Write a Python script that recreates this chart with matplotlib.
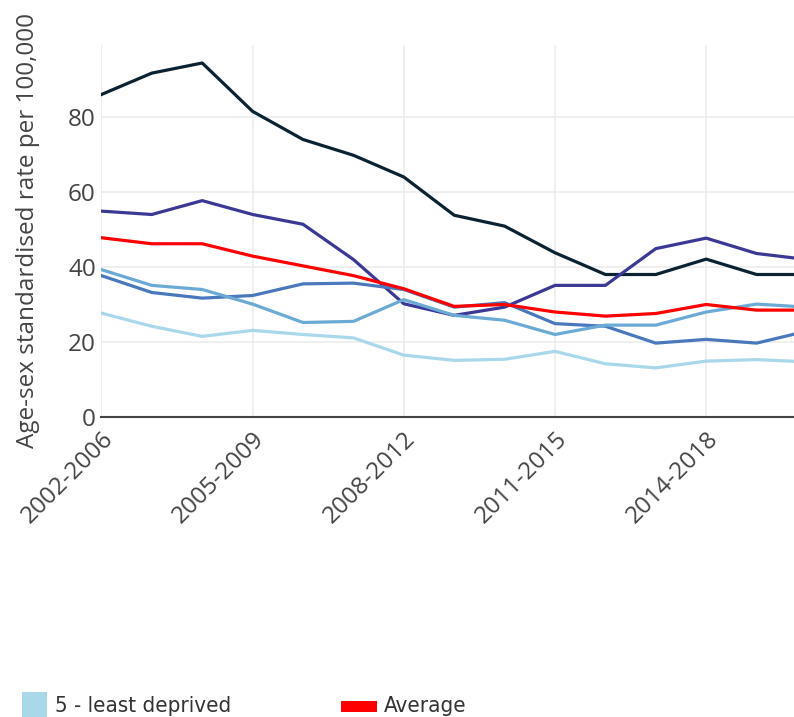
import matplotlib
matplotlib.use("Agg")
import matplotlib.pyplot as plt
from matplotlib.patches import Rectangle

periods = ["2002-2006", "2003-2007", "2004-2008", "2005-2009", "2006-2010",
           "2007-2011", "2008-2012", "2009-2013", "2010-2014", "2011-2015",
           "2012-2016", "2013-2017", "2014-2018", "2015-2019", "2016-2020"]

q1_most = [86.0, 91.7, 94.4, 81.5, 74.0, 69.8, 64.0, 53.8, 50.9, 43.8, 38.0, 38.0, 42.1, 38.0, 38.0]
q2 = [54.9, 54.0, 57.7, 54.0, 51.4, 42.0, 30.2, 27.1, 29.3, 35.1, 35.1, 44.9, 47.7, 43.6, 42.0]
q3 = [37.7, 33.2, 31.7, 32.4, 35.5, 35.7, 34.0, 29.3, 30.5, 24.9, 24.2, 19.7, 20.7, 19.7, 22.9]
q4 = [39.3, 35.1, 34.0, 30.1, 25.2, 25.5, 31.3, 27.1, 25.8, 22.0, 24.5, 24.5, 28.0, 30.1, 29.3]
q5_least = [27.7, 24.2, 21.5, 23.1, 22.0, 21.1, 16.5, 15.1, 15.4, 17.5, 14.2, 13.1, 14.9, 15.3, 14.7]
average = [47.8, 46.2, 46.2, 42.9, 40.3, 37.7, 34.2, 29.5, 30.0, 28.0, 26.9, 27.6, 30.0, 28.5, 28.5]

series_names = ["1 - most deprived", "2", "3", "4", "5 - least deprived", "Average"]
series_values = [q1_most, q2, q3, q4, q5_least, average]
series_colors = ["#0b2233", "#3b3896", "#4a78bd", "#6aaad5", "#a9d8ea", "#ff0000"]

tick_idx = [0, 3, 6, 9, 12]

FONT = ["Open Sans", "DejaVu Sans"]
W, H = 794, 717
fig = plt.figure(figsize=(W / 100, H / 100), dpi=100)
left, right, top, bottom = 101.4, 807.0, 45.0, 417.0
ax = fig.add_axes([left / W, (H - bottom) / H, (right - left) / W, (bottom - top) / H])

x = list(range(len(periods)))
for name, vals, col in zip(series_names, series_values, series_colors):
    ax.plot(x, vals, color=col, lw=2.3, label=name, solid_joinstyle="round", zorder=3)

ax.set_xlim(0, len(periods) - 1)
ax.set_ylim(0, 99.2)
ax.set_yticks([0, 20, 40, 60, 80])
ax.set_xticks(tick_idx)
ax.set_xticklabels([periods[i] for i in tick_idx], rotation=45, ha="right",
                   rotation_mode="anchor", fontsize=17.5, color="#444444", family=FONT)
for lab in ax.get_yticklabels():
    lab.set_fontsize(17.5)
    lab.set_color("#444444")
    lab.set_family(FONT)
ax.tick_params(axis="both", length=0)
ax.tick_params(axis="x", pad=7)
ax.tick_params(axis="y", pad=4)
ax.grid(True, color="#ebebeb", lw=1.1, zorder=0)
for s in ["top", "right", "left"]:
    ax.spines[s].set_visible(False)
ax.spines["bottom"].set_color("#444444")
ax.spines["bottom"].set_linewidth(1.5)
ax.spines["bottom"].set_zorder(4)
ax.set_ylabel("Age-sex standardised rate per 100,000", fontsize=17.5, color="#444444",
              family=FONT)
ax.yaxis.set_label_coords((40 - left) / (right - left), 0.5)

# legend (visible first row)
LFONT = ["DejaVu Sans", "Liberation Sans"]
fig.patches.append(Rectangle((22 / W, 0), 25 / W, (717 - 692) / H, transform=fig.transFigure,
                             facecolor=series_colors[4], edgecolor="none"))
fig.text(55 / W, 1 - 712 / H, series_names[4], fontsize=16, color="#333333",
         family=LFONT, stretch="condensed", va="baseline")
fig.patches.append(Rectangle((341 / W, 1 - 712 / H), 36 / W, 11 / H, transform=fig.transFigure,
                             facecolor=series_colors[5], edgecolor="none"))
fig.text(384 / W, 1 - 712 / H, series_names[5], fontsize=16, color="#333333",
         family=LFONT, stretch="condensed", va="baseline")

fig.savefig("out.png", dpi=100)
